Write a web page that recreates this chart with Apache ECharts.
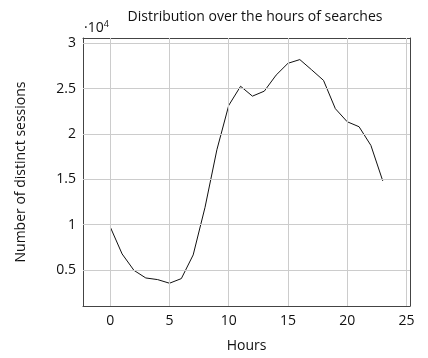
<!DOCTYPE html>
<html><head><meta charset="utf-8">
<script src="https://cdn.jsdelivr.net/npm/echarts@6/dist/echarts.min.js"></script>
<style>html,body{margin:0;padding:0;background:#fff}#c{width:428px;height:358px}</style>
</head><body><div id="c"></div>
<script>
const hours = [0,1,2,3,4,5,6,7,8,9,10,11,12,13,14,15,16,17,18,19,20,21,22,23];
const sessions = [9750,6780,4970,4130,3950,3550,4060,6670,11920,18260,23150,25260,24170,24720,26490,27790,28200,27070,25910,22790,21350,20800,18740,14830];
const xTicks = [0,5,10,15,20,25];
const yTicks = [5000,10000,15000,20000,25000,30000];
const titleText = 'Distribution over the hours of searches';
const xName = 'Hours';
const yName = 'Number of distinct sessions';

const F = '"Open Sans", "Noto Sans", sans-serif';
const chart = echarts.init(document.getElementById('c'));
const axisLine = {show:true, onZero:false, lineStyle:{color:'#444', width:1}};
const xTick = {show:true, inside:true, length:4, customValues:xTicks, lineStyle:{color:'#444'}};
const yTick = {show:true, inside:true, length:4, customValues:yTicks, lineStyle:{color:'#444'}};
chart.setOption({
  animation:false,
  title:{text:titleText, left:250, top:5, textAlign:'center',
    textStyle:{fontFamily:F, fontSize:14, fontWeight:'normal', color:'#111'}},
  grid:{left:83, right:18, top:38, bottom:48, containLabel:false},
  graphic:[{type:'text', left:84, top:20, style:{
    text:'{a|·10}{b|4}', rich:{a:{fontFamily:F, fontSize:14, fill:'#111'}, b:{fontFamily:F, fontSize:9, fill:'#111', verticalAlign:'top', padding:[0,0,8,0]}}}}],
  xAxis:[{type:'value', min:-2.3, max:25.3,
    axisLine:axisLine, axisTick:xTick,
    axisLabel:{fontFamily:F, fontSize:14, color:'#111', margin:8, customValues:xTicks},
    splitLine:{show:false},
    name:xName, nameLocation:'middle', nameGap:33,
    nameTextStyle:{fontFamily:F, fontSize:14, color:'#111'}},
   {type:'value', position:'top', min:-2.3, max:25.3,
    axisLine:axisLine, axisTick:xTick, axisLabel:{show:false}, splitLine:{show:false}}],
  yAxis:[{type:'value', min:1040, max:30580,
    axisLine:axisLine, axisTick:yTick,
    axisLabel:{fontFamily:F, fontSize:14, color:'#111', margin:7, customValues:yTicks,
      formatter:v=> String(v/10000)},
    splitLine:{show:false},
    name:yName, nameLocation:'middle', nameGap:55,
    nameTextStyle:{fontFamily:F, fontSize:14, color:'#111'}},
   {type:'value', position:'right', min:1040, max:30580,
    axisLine:axisLine, axisTick:yTick, axisLabel:{show:false}, splitLine:{show:false}}],
  series:[{type:'line', data:hours.map((h,i)=>[h, sessions[i]]), showSymbol:false,
    lineStyle:{color:'#111', width:1}, z:3,
    markLine:{silent:true, symbol:'none', label:{show:false}, lineStyle:{color:'#ccc', width:1, type:'solid'},
      data:[...xTicks.map(v=>({xAxis:v})), ...yTicks.map(v=>({yAxis:v}))]}}]
});
</script></body></html>
